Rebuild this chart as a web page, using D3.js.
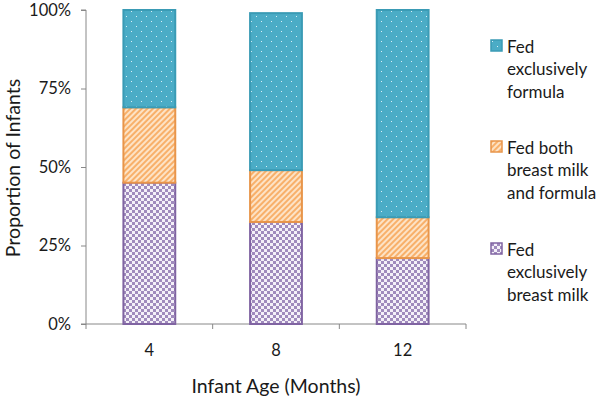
<!DOCTYPE html>
<html><head><meta charset="utf-8">
<script src="https://cdn.jsdelivr.net/npm/d3@7"></script>
<style>body{margin:0;background:#fff}text{font-family:Lato,"Open Sans",sans-serif;fill:#1a1a1a}</style>
</head><body>
<svg id="c" width="601" height="401"></svg>
<script>
const categories = ["4","8","12"];
const seriesNames = ["Fed exclusively breast milk","Fed both breast milk and formula","Fed exclusively formula"];
const breastMilk = [0.45, 0.325, 0.21];
const both = [0.24, 0.165, 0.13];
const formula = [0.31, 0.50, 0.66];
const yTicks = [0, 0.25, 0.5, 0.75, 1];
const legendLines = [["Fed","exclusively","formula"],["Fed both","breast milk","and formula"],["Fed","exclusively","breast milk"]];

const svg = d3.select("#c");
const defs = svg.append("defs");
const pDot = defs.append("pattern").attr("id","pDot").attr("width",10).attr("height",10).attr("patternUnits","userSpaceOnUse");
pDot.append("rect").attr("width",10).attr("height",10).attr("fill","#4bacc6");
pDot.append("rect").attr("x",1).attr("y",1).attr("width",1).attr("height",1).attr("fill","#d8f0f7");
pDot.append("rect").attr("x",6).attr("y",6).attr("width",1).attr("height",1).attr("fill","#d8f0f7");
const pHatch = defs.append("pattern").attr("id","pHatch").attr("width",4).attr("height",4).attr("patternUnits","userSpaceOnUse").attr("patternTransform","rotate(45)");
pHatch.append("rect").attr("width",4).attr("height",4).attr("fill","#fde3c6");
pHatch.append("rect").attr("width",2).attr("height",4).attr("fill","#f8b06a");
const pChk = defs.append("pattern").attr("id","pChk").attr("width",6).attr("height",6).attr("patternUnits","userSpaceOnUse");
pChk.append("rect").attr("width",6).attr("height",6).attr("fill","#f4f0f8");
pChk.append("rect").attr("width",3).attr("height",3).attr("fill","#a08bbd");
pChk.append("rect").attr("x",3).attr("y",3).attr("width",3).attr("height",3).attr("fill","#a08bbd");

const fills = ["url(#pChk)","url(#pHatch)","url(#pDot)"];
const strokes = ["#8064a2","#e8954a","#3a9bb5"];

const x0 = 86, x1 = 466, yTop = 10, yBot = 324;
const x = d3.scaleBand().domain(categories).range([x0,x1]).paddingInner(0.575).paddingOuter(0.2875);
const y = d3.scaleLinear().domain([0,1]).range([yBot,yTop]);

const data = categories.map((c,i)=>({cat:c, b:breastMilk[i], m:both[i], f:formula[i]}));
const stack = d3.stack().keys(["b","m","f"])(data);

const yAxis = d3.axisLeft(y).tickValues(yTicks).tickFormat(d3.format(".0%")).tickSize(5).tickPadding(10);
const gy = svg.append("g").attr("transform",`translate(${x0},0)`).call(yAxis);
gy.select(".domain").attr("stroke","#888").attr("d",`M-5,${yTop}H0V${yBot}H-5`);
gy.selectAll(".tick line").attr("stroke","#888");
gy.selectAll(".tick text").style("font-size","16.5px").attr("fill","#1a1a1a");

const gx = svg.append("g").attr("transform",`translate(0,${yBot})`);
gx.append("line").attr("x1",x0).attr("x2",x1).attr("stroke","#888");
const bounds = [x0, ...categories.slice(1).map(c=>x(c)-x.step()*x.paddingInner()/2), x1];
gx.selectAll(".tk").data(bounds).enter().append("line").attr("x1",d=>d).attr("x2",d=>d).attr("y1",0).attr("y2",5).attr("stroke","#888");
gx.selectAll(".lb").data(categories).enter().append("text").attr("x",d=>x(d)+x.bandwidth()/2).attr("y",32).attr("text-anchor","middle").style("font-size","16.5px").text(d=>d);

stack.forEach((s,si)=>{
  svg.append("g").selectAll("rect").data(s).enter().append("rect")
    .attr("x",d=>x(d.data.cat)+1).attr("width",x.bandwidth()-2)
    .attr("y",d=>y(d[1])).attr("height",d=>y(d[0])-y(d[1]))
    .attr("fill",fills[si]).attr("stroke",strokes[si]).attr("stroke-width",2);
});

svg.append("text").attr("transform","translate(20,168) rotate(-90)").attr("text-anchor","middle").style("font-size","19.5px").text("Proportion of Infants");
svg.append("text").attr("x",276).attr("y",393).attr("text-anchor","middle").style("font-size","19.5px").text("Infant Age (Months)");

const legOrder = [2,1,0];
const legY = [40,141,243];
legOrder.forEach((si,k)=>{
  const g = svg.append("g").attr("transform",`translate(491,${legY[k]})`);
  g.append("rect").attr("width",11).attr("height",11).attr("fill",fills[si]).attr("stroke",strokes[si]).attr("stroke-width",1.5);
  legendLines[k].forEach((t,j)=>{
    g.append("text").attr("x",16).attr("y",12.5+j*22.5).style("font-size","17px").text(t);
  });
});
</script>
</body></html>
